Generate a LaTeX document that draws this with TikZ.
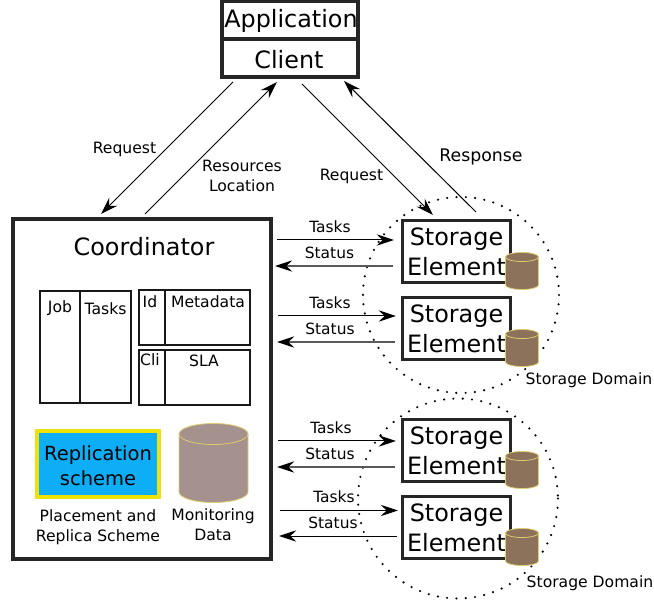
\documentclass[tikz,border=0pt]{standalone}
\usepackage{fontspec}
\setmainfont{DejaVu Sans}
\usetikzlibrary{arrows.meta}
\definecolor{cylbrown}{RGB}{140,113,91}
\definecolor{cylyellow}{RGB}{222,205,110}
\definecolor{greycyl}{RGB}{165,145,142}
\definecolor{repblue}{RGB}{13,174,245}
\definecolor{repyellow}{RGB}{240,225,10}
\tikzset{
  x=0.75pt,y=-0.75pt,
  headtip/.style={-{Stealth[length=13pt,width=8.5pt,inset=4.5pt,color=black,fill=black]}},
  flow/.style={headtip,line width=0.75pt,draw=black},
  backflow/.style={headtip,line width=0.9pt,draw=black!65},
  big/.style={font=\fontsize{17.9}{22.5}\selectfont,align=center,inner sep=0pt},
  mid/.style={font=\fontsize{11.7}{15}\selectfont,align=center,inner sep=0pt},
  small/.style={font=\fontsize{11.6}{13}\selectfont,inner sep=0pt},
  tbl/.style={draw=black!90,line width=1.4pt},
  heavy/.style={draw=black!85,line width=2.3pt,inner sep=0pt},
  dom/.style={draw=black,line width=1.8pt,line cap=round,dash pattern=on 0pt off 7pt},
}
\newcommand{\mycyl}[6]{% cx, top y, bottom y, rx, ry, fill
  \path[fill=#6,draw=cylyellow,line width=0.6pt] (#1-#4,#2) -- (#1-#4,#3) arc[start angle=180,end angle=360,x radius=#4,y radius=-#5] -- (#1+#4,#2);
  \path[fill=#6,draw=cylyellow,line width=0.6pt] (#1,#2) ellipse[x radius=#4,y radius=#5];
}
\begin{document}
\begin{tikzpicture}
\useasboundingbox (0,0) rectangle (654,602);
% domains
\draw[dom] (461,295) circle[radius=98];
\draw[dom] (458,498.5) circle[radius=100];
% application
\node[heavy,minimum width=102pt,minimum height=28pt] (app) at (290,20.5) {};
\node[heavy,minimum width=102pt,minimum height=28.5pt] (cli) at (290,58) {};
\node[big] (apptxt) at (291,20.5) {Application};
\node[big] (clitxt) at (289,59.5) {Client};
% coordinator
\node[heavy,minimum width=193.5pt,minimum height=255pt] (coord) at (142,389) {};
\node[big] (coordtxt) at (144,247) {Coordinator};
% tables
\node[tbl,minimum width=68pt,minimum height=84.5pt,inner sep=0pt] (jobtbl) at (85.5,347) {};
\draw[tbl] (80,290) -- (80,403);
\node[mid] (job) at (60,308) {Job};
\node[mid] (tasks) at (105.5,309) {Tasks};
\node[tbl,minimum width=83pt,minimum height=41pt,inner sep=0pt] (metatbl) at (194.5,317.5) {};
\draw[tbl] (165,290) -- (165,345);
\node[mid] (id) at (150,302) {Id};
\node[mid] (meta) at (208,301.5) {Metadata};
\node[tbl,minimum width=83pt,minimum height=41pt,inner sep=0pt] (slatbl) at (194.5,377.5) {};
\draw[tbl] (165,350) -- (165,405);
\node[mid] (cl) at (150,359.5) {Cli};
\node[mid] (sla) at (204,360.5) {SLA};
% replication
\node[draw=repyellow,fill=repblue,line width=3pt,minimum width=91.5pt,minimum height=49pt,inner sep=0pt] (rep) at (98,464) {};
\node[font=\fontsize{14.6}{18.75}\selectfont,align=center,inner sep=0pt] (reptxt) at (98,466) {Replication\\scheme};
\node[mid] (pl) at (98,527.5) {Placement and\\Replica Scheme};
\mycyl{213.5}{434}{492}{34.5}{10.5}{greycyl}
\node[mid] (mon) at (213,525) {Monitoring\\Data};
% storage elements
\foreach \n/\y in {a/219,b/296,c/418,d/495}{
  \node[heavy,minimum width=81pt,minimum height=46.5pt,anchor=north west,fill=white] (se\n) at (401,\y) {};
  \node[big] at (456.5,\y+33) {Storage\\Element};
  \mycyl{522}{\y+38}{\y+66}{16.5}{4.5}{cylbrown}
}
% connectors
\coordinate (c1) at (233,82); \coordinate (c2) at (101,214);
\draw[flow] (c1) -- (c2);
\coordinate (c3) at (145,214); \coordinate (c4) at (277,82);
\draw[flow] (c3) -- (c4);
\coordinate (c5) at (302,84); \coordinate (c6) at (433,215);
\draw[flow] (c5) -- (c6);
\coordinate (c7) at (476,212); \coordinate (c8) at (344,81);
\draw[flow] (c7) -- (c8);
\foreach \y/\xa/\xb in {240/277/394,316/278/396,441/278/396,510.5/280/398}{
  \coordinate (t) at (\xa,\y); \coordinate (u) at (\xb,\y);
  \draw[flow] (t) -- (u);
}
\foreach \y/\xa/\xb in {266/393/275,342/395/277,467/395/277}{
  \coordinate (t) at (\xa,\y); \coordinate (u) at (\xb,\y);
  \draw[backflow] (t) -- (u);
}
\coordinate (t) at (397,536); \coordinate (u) at (279,536);
\draw[flow] (t) -- (u);
% labels
\foreach \x/\y/\s in {330/227/Tasks,329.5/253/Status,330/303/Tasks,330/329/Status,331/428/Tasks,330/454/Status,334/497/Tasks,333/523/Status}{
  \node[small] at (\x,\y) {\s};
}
\node[mid] (r1) at (124.5,149) {Request};
\node[mid] (r2) at (351.5,176) {Request};
\node[mid] (res) at (242,176) {Resources\\Location};
\node[font=\fontsize{13}{15}\selectfont,inner sep=0pt] (resp) at (481,157) {Response};
\node[mid] (d1) at (589,380.5) {Storage Domain};
\node[mid] (d2) at (590,583) {Storage Domain};
\end{tikzpicture}
\end{document}
